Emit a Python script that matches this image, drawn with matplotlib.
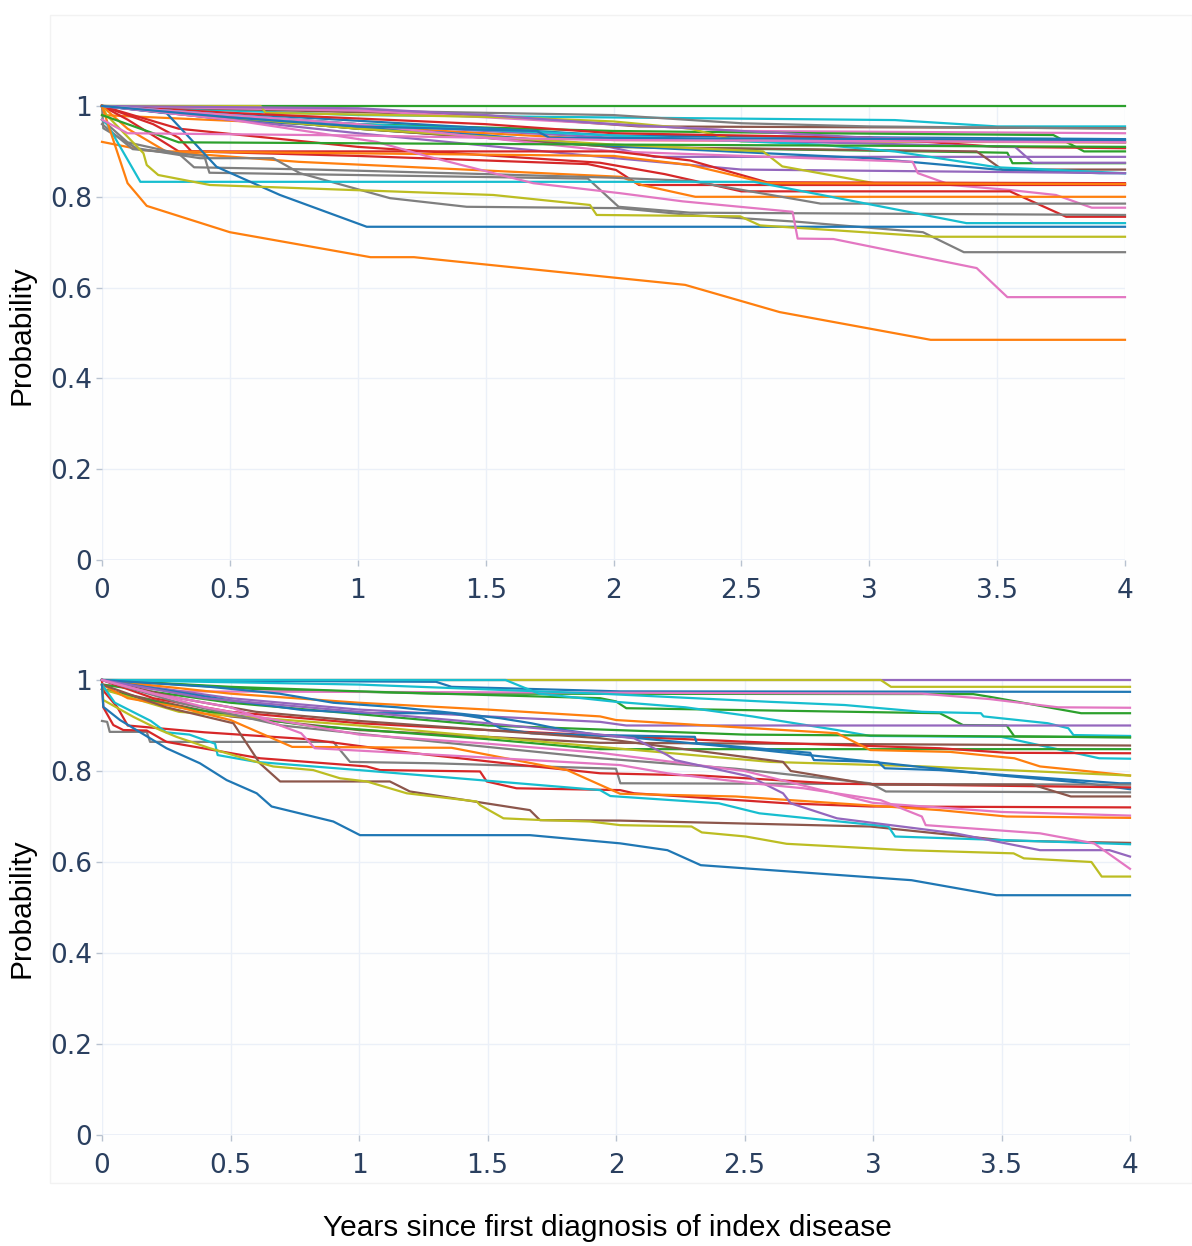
import matplotlib
matplotlib.use("Agg")
import matplotlib.pyplot as plt
from matplotlib.patches import Rectangle

BLUE, ORANGE, GREEN, RED, PURPLE = '#1f77b4', '#ff7f0e', '#2ca02c', '#d62728', '#9467bd'
BROWN, PINK, GRAY, OLIVE, CYAN = '#8c564b', '#e377c2', '#7f7f7f', '#bcbd22', '#17becf'

x_ticks = [0, 0.5, 1, 1.5, 2, 2.5, 3, 3.5, 4]
x_tick_labels = ['0', '0.5', '1', '1.5', '2', '2.5', '3', '3.5', '4']
y_ticks = [0, 0.2, 0.4, 0.6, 0.8, 1]
y_tick_labels = ['0', '0.2', '0.4', '0.6', '0.8', '1']

# ---------------- top panel curves ----------------
t_green_flat_x = [0, 4]; t_green_flat_y = [1, 1]
t_cyan_top_x = [0, 1.0, 3.1, 3.5, 4]; t_cyan_top_y = [1, 0.98, 0.969, 0.955, 0.955]
t_brown_top_x = [0, 1.48, 2.1, 4]; t_brown_top_y = [1, 0.98, 0.955, 0.951]
t_gray_top_x = [0, 1.0, 2.0, 2.5, 3.0, 4]; t_gray_top_y = [1, 0.99, 0.98, 0.962, 0.955, 0.95]
t_pink_top_x = [0, 1.0, 2.0, 2.5, 4]; t_pink_top_y = [1, 0.99, 0.96, 0.945, 0.94]
t_green_a_x = [0, 1.0, 2.0, 2.8, 3.72, 3.84, 4]; t_green_a_y = [1, 0.96, 0.945, 0.94, 0.936, 0.90, 0.90]
t_blue_a_x = [0, 2.0, 4]; t_blue_a_y = [1, 0.935, 0.927]
t_orange_a_x = [0, 1, 2, 4]; t_orange_a_y = [0.98, 0.955, 0.925, 0.92]
t_olive_a_x = [0, 0.62, 0.64, 1.6, 2.0, 2.3, 2.5, 4]; t_olive_a_y = [1, 1, 0.985, 0.975, 0.966, 0.95, 0.922, 0.92]
t_red_a_x = [0, 0.5, 1.5, 2.0, 3.0, 3.5, 4]; t_red_a_y = [1, 0.985, 0.96, 0.94, 0.93, 0.91, 0.907]
t_purple_top_x = [0, 1.0, 1.5, 2.0, 3.0, 4]; t_purple_top_y = [1, 0.995, 0.98, 0.96, 0.93, 0.92]
t_green_b_x = [0, 1, 2.0, 3.44, 3.54, 3.56, 4]; t_green_b_y = [1, 0.95, 0.91, 0.898, 0.897, 0.874, 0.874]
t_purple_a_x = [0, 1, 2, 3.57, 3.64, 4]; t_purple_a_y = [1, 0.96, 0.93, 0.91, 0.875, 0.875]
t_purple_b_x = [0, 0.6, 1.5, 1.95, 2.16, 4]; t_purple_b_y = [1, 0.97, 0.935, 0.914, 0.888, 0.888]
t_brown_b_x = [0, 1, 2, 3.42, 3.52, 4]; t_brown_b_y = [1, 0.95, 0.91, 0.9, 0.86, 0.86]
t_blue_b_x = [0, 0.5, 1.5, 2, 3, 3.5, 3.9, 4]; t_blue_b_y = [1, 0.97, 0.935, 0.912, 0.885, 0.86, 0.852, 0.852]
t_cyan_b_x = [0, 1, 2, 2.8, 3.1, 3.5, 4]; t_cyan_b_y = [1, 0.96, 0.935, 0.915, 0.9, 0.865, 0.852]
t_purple_c_x = [0, 0.5, 1.0, 1.95, 2.5, 4]; t_purple_c_y = [1, 0.97, 0.94, 0.888, 0.86, 0.852]
t_olive_b_x = [0, 1, 2, 2.585, 2.66, 3.03, 4]; t_olive_b_y = [1, 0.95, 0.915, 0.9, 0.867, 0.829, 0.828]
t_pink_b_x = [0, 1, 2, 3.17, 3.19, 3.32, 3.55, 3.73, 3.87, 4]
t_pink_b_y = [1, 0.96, 0.9, 0.877, 0.852, 0.826, 0.815, 0.804, 0.776, 0.776]
t_red_b_x = [0, 0.2, 0.3, 0.35, 1.0, 1.9, 2.01, 2.1, 4]; t_red_b_y = [1, 0.96, 0.93, 0.9, 0.89, 0.872, 0.859, 0.826, 0.826]
t_red_c_x = [0, 0.3, 1, 1.947, 2.2, 2.5, 3.55, 3.77, 4]; t_red_c_y = [1, 0.95, 0.91, 0.875, 0.85, 0.812, 0.812, 0.756, 0.756]
t_red_d_x = [0, 0.1, 0.3, 2.0, 2.3, 2.6, 4]; t_red_d_y = [1, 0.97, 0.9, 0.9, 0.88, 0.832, 0.83]
t_orange_b_x = [0, 0.16, 0.77, 2.03, 2.11, 2.32, 4]; t_orange_b_y = [0.921, 0.903, 0.877, 0.844, 0.826, 0.80, 0.80]
t_orange_c_x = [0, 0.1, 0.25, 2.0, 2.3, 2.6, 4]; t_orange_c_y = [1, 0.95, 0.9, 0.89, 0.87, 0.83, 0.828]
t_gray_a_x = [0, 0.005, 0.135, 0.383, 0.669, 0.774, 1.126, 1.426, 2.025, 2.3, 2.72, 3.21, 3.37, 4]
t_gray_a_y = [1, 0.951, 0.907, 0.885, 0.885, 0.852, 0.797, 0.778, 0.775, 0.76, 0.745, 0.722, 0.678, 0.678]
t_gray_b_x = [0, 0.1, 0.3, 0.36, 0.83, 1.5, 2.0, 2.3, 2.81, 4]; t_gray_b_y = [0.97, 0.92, 0.895, 0.865, 0.86, 0.85, 0.842, 0.835, 0.785, 0.785]
t_gray_c_x = [0, 0.12, 0.4, 0.42, 1.9, 2.02, 2.3, 4]; t_gray_c_y = [0.96, 0.905, 0.89, 0.853, 0.84, 0.778, 0.765, 0.76]
t_cyan_c_x = [0, 0.02, 0.15, 2.55, 3.38, 4]; t_cyan_c_y = [0.97, 0.96, 0.833, 0.833, 0.742, 0.742]
t_blue_c_x = [0, 0.253, 0.448, 0.696, 1.035, 4]; t_blue_c_y = [1, 0.984, 0.866, 0.804, 0.734, 0.734]
t_olive_c_x = [0, 0.018, 0.162, 0.175, 0.22, 0.422, 1.53, 1.908, 1.934, 2.495, 2.573, 3.25, 4]
t_olive_c_y = [1, 0.98, 0.896, 0.87, 0.848, 0.826, 0.804, 0.782, 0.76, 0.757, 0.737, 0.712, 0.712]
t_pink_c_x = [0, 0.5, 1.074, 1.28, 1.686, 2.025, 2.27, 2.70, 2.72, 2.86, 3.42, 3.54, 4]
t_pink_c_y = [1, 0.97, 0.921, 0.888, 0.83, 0.808, 0.79, 0.767, 0.708, 0.707, 0.643, 0.579, 0.579]
t_orange_big_x = [0, 0.1, 0.175, 0.5, 1.05, 1.22, 2.28, 2.65, 3.24, 4]
t_orange_big_y = [1, 0.83, 0.78, 0.722, 0.667, 0.667, 0.606, 0.546, 0.485, 0.485]
t_green_c_x = [0, 0.1, 0.3, 2, 4]; t_green_c_y = [0.98, 0.96, 0.92, 0.915, 0.91]
t_blue_d_x = [0, 0.5, 1.0, 1.7, 1.75, 4]; t_blue_d_y = [1, 0.975, 0.955, 0.945, 0.93, 0.925]
t_pink_d_x = [0, 0.1, 1.0, 2, 4]; t_pink_d_y = [0.97, 0.94, 0.935, 0.925, 0.92]

top_curves = [
    (t_green_flat_x, t_green_flat_y, GREEN), (t_cyan_top_x, t_cyan_top_y, CYAN),
    (t_brown_top_x, t_brown_top_y, BROWN), (t_gray_top_x, t_gray_top_y, GRAY),
    (t_pink_top_x, t_pink_top_y, PINK), (t_green_a_x, t_green_a_y, GREEN),
    (t_blue_a_x, t_blue_a_y, BLUE), (t_orange_a_x, t_orange_a_y, ORANGE),
    (t_olive_a_x, t_olive_a_y, OLIVE), (t_red_a_x, t_red_a_y, RED),
    (t_purple_top_x, t_purple_top_y, PURPLE), (t_green_b_x, t_green_b_y, GREEN),
    (t_purple_a_x, t_purple_a_y, PURPLE), (t_purple_b_x, t_purple_b_y, PURPLE),
    (t_brown_b_x, t_brown_b_y, BROWN), (t_blue_b_x, t_blue_b_y, BLUE),
    (t_cyan_b_x, t_cyan_b_y, CYAN), (t_purple_c_x, t_purple_c_y, PURPLE),
    (t_olive_b_x, t_olive_b_y, OLIVE), (t_pink_b_x, t_pink_b_y, PINK),
    (t_red_b_x, t_red_b_y, RED), (t_red_c_x, t_red_c_y, RED),
    (t_red_d_x, t_red_d_y, RED), (t_orange_b_x, t_orange_b_y, ORANGE),
    (t_orange_c_x, t_orange_c_y, ORANGE), (t_gray_a_x, t_gray_a_y, GRAY),
    (t_gray_b_x, t_gray_b_y, GRAY), (t_gray_c_x, t_gray_c_y, GRAY),
    (t_cyan_c_x, t_cyan_c_y, CYAN), (t_blue_c_x, t_blue_c_y, BLUE),
    (t_olive_c_x, t_olive_c_y, OLIVE), (t_pink_c_x, t_pink_c_y, PINK),
    (t_orange_big_x, t_orange_big_y, ORANGE), (t_green_c_x, t_green_c_y, GREEN),
    (t_blue_d_x, t_blue_d_y, BLUE), (t_pink_d_x, t_pink_d_y, PINK),
]

# ---------------- bottom panel curves ----------------
b_blue_a_x = [0, 0.005, 0.07, 0.251, 0.381, 0.485, 0.602, 0.66, 0.9, 1.004, 1.665, 2.016, 2.2, 2.33, 3.15, 3.48, 4]
b_blue_a_y = [0.99, 0.941, 0.912, 0.85, 0.817, 0.78, 0.751, 0.722, 0.689, 0.659, 0.659, 0.641, 0.626, 0.593, 0.56, 0.527, 0.527]
b_olive_a_x = [0, 0.005, 0.122, 0.226, 0.29, 0.42, 0.576, 0.666, 0.822, 0.926, 1.03, 1.186, 1.458, 1.471, 1.562,
               1.717, 1.899, 2.016, 2.294, 2.334, 2.505, 2.664, 3.125, 3.547, 3.587, 3.85, 3.89, 4]
b_olive_a_y = [0.99, 0.956, 0.919, 0.89, 0.875, 0.85, 0.824, 0.81, 0.802, 0.784, 0.777, 0.751, 0.733, 0.725, 0.696,
               0.692, 0.689, 0.681, 0.678, 0.665, 0.656, 0.64, 0.626, 0.619, 0.608, 0.6, 0.568, 0.568]
b_brown_a_x = [0, 0.25, 0.511, 0.614, 0.693, 1.12, 1.198, 1.665, 1.704, 2.016, 2.99, 3.52, 4]
b_brown_a_y = [0.99, 0.94, 0.905, 0.817, 0.777, 0.777, 0.755, 0.714, 0.692, 0.691, 0.678, 0.647, 0.642]
b_cyan_a_x = [0, 0.05, 0.19, 0.25, 0.34, 0.44, 0.45, 0.6, 1.0, 1.3, 1.938, 1.978, 2.4, 2.558, 3.06, 3.086, 4]
b_cyan_a_y = [0.99, 0.95, 0.91, 0.885, 0.88, 0.86, 0.835, 0.82, 0.802, 0.788, 0.758, 0.745, 0.729, 0.707, 0.678, 0.656, 0.639]
b_purple_a_x = [0, 0.4, 1.0, 1.5, 1.938, 2.07, 2.2, 2.23, 2.52, 2.65, 2.68, 2.86, 3.32, 3.65, 3.92, 4]
b_purple_a_y = [1, 0.96, 0.93, 0.905, 0.88, 0.872, 0.835, 0.824, 0.788, 0.751, 0.729, 0.696, 0.663, 0.626, 0.626, 0.612]
b_pink_a_x = [0, 0.2, 0.5, 0.775, 0.828, 1.42, 2.016, 2.2, 2.53, 2.73, 3.03, 3.19, 3.205, 3.65, 3.86, 4]
b_pink_a_y = [1, 0.97, 0.94, 0.883, 0.85, 0.832, 0.813, 0.795, 0.773, 0.762, 0.736, 0.70, 0.681, 0.663, 0.641, 0.585]
b_orange_a_x = [0, 0.1, 0.3, 0.5, 0.74, 1.36, 1.81, 2.016, 2.466, 3.26, 3.52, 4]
b_orange_a_y = [0.99, 0.96, 0.94, 0.912, 0.853, 0.851, 0.802, 0.75, 0.744, 0.714, 0.70, 0.697]
b_red_a_x = [0, 0.005, 0.044, 0.083, 0.174, 0.251, 0.615, 1.03, 1.082, 1.471, 1.497, 1.613, 2.016, 2.07, 2.664, 2.99, 4]
b_red_a_y = [1, 0.94, 0.901, 0.89, 0.889, 0.864, 0.828, 0.81, 0.802, 0.799, 0.777, 0.762, 0.758, 0.751, 0.729, 0.722, 0.72]
b_red_b_x = [0, 0.2, 0.5, 1.0, 1.5, 1.938, 2.6, 3.26, 3.52, 4]
b_red_b_y = [1, 0.96, 0.93, 0.905, 0.89, 0.878, 0.862, 0.85, 0.84, 0.839]
b_red_c_x = [0, 0.06, 0.1, 0.4, 0.8, 1.2, 1.6, 1.938, 2.33, 2.86, 4]
b_red_c_y = [0.98, 0.94, 0.9, 0.885, 0.87, 0.84, 0.815, 0.795, 0.79, 0.772, 0.764]
b_blue_b_x = [0, 0.42, 0.69, 0.9, 1.15, 1.41, 1.55, 1.67, 1.8, 1.938, 2.307, 2.314, 2.756, 2.77, 3.02, 3.046, 3.257, 3.587, 3.96, 4]
b_blue_b_y = [1, 0.985, 0.97, 0.95, 0.94, 0.925, 0.916, 0.905, 0.89, 0.879, 0.875, 0.861, 0.84, 0.824, 0.82, 0.806, 0.802, 0.788, 0.773, 0.773]
b_blue_c_x = [0, 0.5, 0.78, 1.03, 1.36, 1.48, 1.55, 1.67, 2.016, 2.5, 3.0, 3.5, 3.8, 4]
b_blue_c_y = [1, 0.955, 0.934, 0.927, 0.927, 0.916, 0.894, 0.883, 0.876, 0.85, 0.82, 0.79, 0.775, 0.76]
b_gray_a_x = [0, 0.02, 0.03, 0.174, 0.187, 0.9, 0.965, 1.29, 2.0, 2.017, 4]
b_gray_a_y = [0.91, 0.908, 0.886, 0.886, 0.864, 0.864, 0.82, 0.817, 0.805, 0.773, 0.77]
b_gray_b_x = [0, 0.3, 0.7, 1.2, 1.938, 2.466, 2.99, 3.05, 4]
b_gray_b_y = [1, 0.95, 0.9, 0.87, 0.828, 0.805, 0.773, 0.755, 0.753]
b_brown_b_x = [0, 0.3, 0.6, 1.0, 1.5, 1.938, 2.65, 2.68, 3.0, 3.62, 3.77, 4]
b_brown_b_y = [1, 0.96, 0.93, 0.91, 0.89, 0.872, 0.82, 0.80, 0.77, 0.77, 0.744, 0.744]
b_orange_b_x = [0, 0.5, 1.0, 1.5, 1.938, 2.0, 2.86, 2.99, 3.3, 3.55, 3.65, 4]
b_orange_b_y = [1, 0.97, 0.95, 0.935, 0.92, 0.912, 0.883, 0.846, 0.842, 0.828, 0.81, 0.79]
b_olive_b_x = [0, 0.3, 1.0, 1.938, 2.6, 3.2, 4]
b_olive_b_y = [0.98, 0.93, 0.9, 0.853, 0.82, 0.81, 0.79]
b_cyan_b_x = [0, 1.57, 1.7, 2.0, 2.27, 2.53, 2.86, 2.99, 3.5, 3.88, 4]
b_cyan_b_y = [1, 1, 0.97, 0.952, 0.94, 0.92, 0.89, 0.877, 0.875, 0.828, 0.827]
b_cyan_c_x = [0, 1.0, 1.938, 2.6, 2.89, 3.19, 3.42, 3.43, 3.68, 3.76, 3.78, 4]
b_cyan_c_y = [1, 0.99, 0.97, 0.952, 0.945, 0.93, 0.927, 0.92, 0.905, 0.894, 0.879, 0.877]
b_blue_d_x = [0, 1.3, 1.36, 2.016, 4]; b_blue_d_y = [1, 0.996, 0.985, 0.975, 0.974]
b_purple_b_x = [0, 4]; b_purple_b_y = [1, 1]
b_olive_c_x = [0, 3.03, 3.07, 4]; b_olive_c_y = [1, 1, 0.985, 0.985]
b_green_a_x = [0, 0.6, 1.3, 3.39, 3.455, 3.81, 4]; b_green_a_y = [1, 0.98, 0.97, 0.969, 0.963, 0.927, 0.927]
b_pink_b_x = [0, 0.3, 3.19, 3.455, 3.72, 4]; b_pink_b_y = [0.99, 0.975, 0.97, 0.958, 0.94, 0.939]
b_green_b_x = [0, 0.5, 1.0, 1.938, 2.0, 2.04, 3.26, 3.35, 3.52, 3.55, 4]
b_green_b_y = [1, 0.985, 0.975, 0.96, 0.953, 0.938, 0.927, 0.901, 0.9, 0.876, 0.874]
b_green_c_x = [0, 0.3, 0.8, 1.5, 1.938, 4]; b_green_c_y = [0.98, 0.94, 0.9, 0.87, 0.848, 0.848]
b_green_d_x = [0, 0.5, 1.5, 2.5, 4]; b_green_d_y = [0.99, 0.95, 0.9, 0.88, 0.874]
b_purple_c_x = [0, 0.5, 1.0, 1.5, 1.938, 2.04, 4]; b_purple_c_y = [1, 0.96, 0.935, 0.92, 0.908, 0.9, 0.9]
b_brown_c_x = [0, 0.5, 1.0, 1.938, 4]; b_brown_c_y = [0.98, 0.92, 0.89, 0.862, 0.856]
b_pink_c_x = [0, 0.4, 1.0, 1.5, 1.938, 2.5, 3.0, 3.5, 4]; b_pink_c_y = [1, 0.94, 0.88, 0.86, 0.84, 0.8, 0.73, 0.71, 0.702]

bottom_curves = [
    (b_purple_b_x, b_purple_b_y, PURPLE), (b_olive_c_x, b_olive_c_y, OLIVE),
    (b_blue_d_x, b_blue_d_y, BLUE), (b_green_a_x, b_green_a_y, GREEN),
    (b_pink_b_x, b_pink_b_y, PINK), (b_green_b_x, b_green_b_y, GREEN),
    (b_cyan_c_x, b_cyan_c_y, CYAN), (b_cyan_b_x, b_cyan_b_y, CYAN),
    (b_purple_c_x, b_purple_c_y, PURPLE), (b_green_d_x, b_green_d_y, GREEN),
    (b_brown_c_x, b_brown_c_y, BROWN), (b_green_c_x, b_green_c_y, GREEN),
    (b_red_b_x, b_red_b_y, RED), (b_orange_b_x, b_orange_b_y, ORANGE),
    (b_olive_b_x, b_olive_b_y, OLIVE), (b_blue_b_x, b_blue_b_y, BLUE),
    (b_blue_c_x, b_blue_c_y, BLUE), (b_gray_a_x, b_gray_a_y, GRAY),
    (b_gray_b_x, b_gray_b_y, GRAY), (b_red_c_x, b_red_c_y, RED),
    (b_brown_b_x, b_brown_b_y, BROWN), (b_red_a_x, b_red_a_y, RED),
    (b_pink_c_x, b_pink_c_y, PINK), (b_orange_a_x, b_orange_a_y, ORANGE),
    (b_brown_a_x, b_brown_a_y, BROWN), (b_cyan_a_x, b_cyan_a_y, CYAN),
    (b_purple_a_x, b_purple_a_y, PURPLE), (b_pink_a_x, b_pink_a_y, PINK),
    (b_olive_a_x, b_olive_a_y, OLIVE), (b_blue_a_x, b_blue_a_y, BLUE),
]

W, H = 1192, 1246
fig = plt.figure(figsize=(W / 100, H / 100), dpi=100)
frame = Rectangle((50 / W, 1 - 1183 / H), 1 - 50 / W, (1183 - 15) / H,
                  transform=fig.transFigure, facecolor='#fefefe',
                  edgecolor='#f2f2f2', lw=1, zorder=-10)
fig.add_artist(frame)

GRID = '#ebf0f8'
TICKC = '#2a3f5f'


def panel(rect, curves):
    ax = fig.add_axes(rect)
    ax.set_zorder(1)
    ax.set_facecolor('none')
    for xs, ys, c in curves:
        ax.plot(xs, ys, color=c, lw=1.6, clip_on=False, solid_joinstyle='round', zorder=3)
    ax.set_xlim(0, 4)
    ax.set_ylim(0, 1)
    ax.set_xticks(x_ticks)
    ax.set_xticklabels(x_tick_labels)
    ax.set_yticks(y_ticks)
    ax.set_yticklabels(y_tick_labels)
    for s in ax.spines.values():
        s.set_visible(False)
    ax.grid(True, color=GRID, lw=1, zorder=0)
    ax.axhline(0, color=GRID, lw=2, zorder=1)
    ax.axvline(0, color=GRID, lw=1.5, zorder=1)
    ax.tick_params(axis='both', labelsize=19, labelcolor=TICKC, color='#b8c2d0',
                   length=4, width=1, direction='out')
    ax.tick_params(axis='x', pad=9)
    ax.tick_params(axis='y', pad=3)
    for lab in ax.get_xticklabels() + ax.get_yticklabels():
        lab.set_fontfamily('DejaVu Sans')
    return ax


ax1 = panel([102 / W, 1 - 560 / H, (1125 - 102) / W, (560 - 106) / H], top_curves)
ax2 = panel([102 / W, 1 - 1135 / H, (1130 - 102) / W, (1135 - 680) / H], bottom_curves)

fig.text(22 / W, 1 - 335 / H, 'Probability', rotation=90, ha='center', va='center',
         fontsize=21.5, family='Liberation Sans', color='black')
fig.text(22 / W, 1 - 908 / H, 'Probability', rotation=90, ha='center', va='center',
         fontsize=21.5, family='Liberation Sans', color='black')
fig.text(607 / W, 1 - 1228 / H, 'Years since first diagnosis of index disease', ha='center',
         va='center', fontsize=21.5, family='Liberation Sans', color='black')

fig.savefig('out.png', dpi=100)
